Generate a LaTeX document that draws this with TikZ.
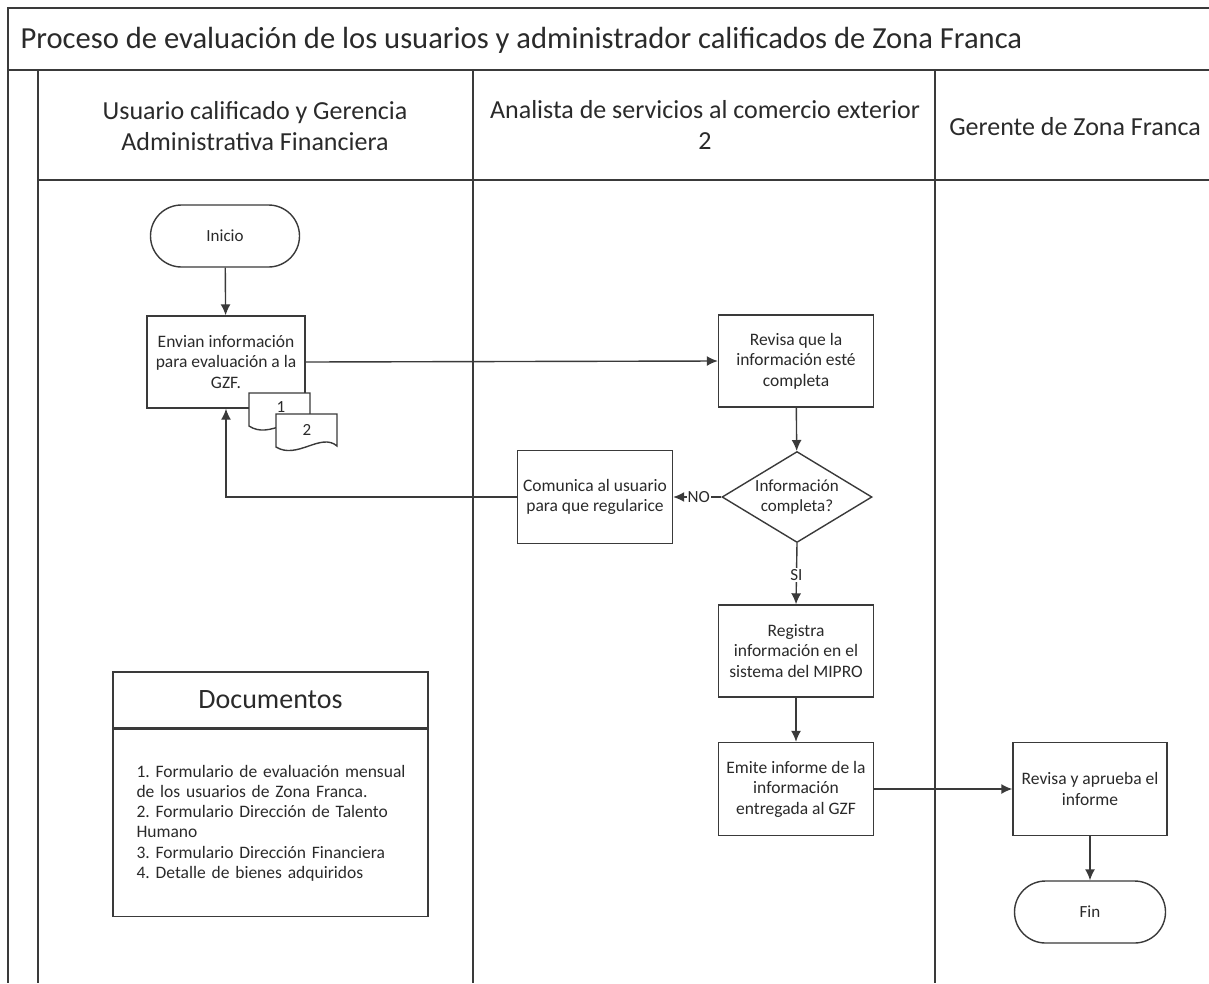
\documentclass[tikz,border=0pt]{standalone}
\usepackage{fontspec}
\setmainfont{Carlito}
\usetikzlibrary{arrows.meta,shapes.geometric,shapes.misc}
\definecolor{ln}{HTML}{3A3A3A}
\definecolor{tx}{HTML}{2A2A2A}
\frenchspacing
\begin{document}
\begin{tikzpicture}[x=1pt,y=-1pt,
  lane/.style={draw=ln, line width=1.8pt},
  proc/.style={draw=ln, line width=1.4pt, fill=white, minimum width=155pt, minimum height=92pt,
    inner sep=2pt, align=center, text=tx, font=\fontsize{17.5}{20.5}\selectfont},
  term/.style={rounded rectangle, draw=ln, line width=1.4pt, fill=white, minimum width=153pt,
    minimum height=62pt, inner sep=2pt, text=tx, font=\fontsize{17}{19}\selectfont},
  dec/.style={diamond, aspect=1.65, draw=ln, line width=1.4pt, fill=white, minimum width=150pt,
    minimum height=91pt, inner sep=0pt},
  dectext/.style={align=center, inner sep=0pt, text=tx, font=\fontsize{17}{20.5}\selectfont},
  flow/.style={draw=ln, line width=1.4pt, -{Latex[length=11pt,width=10pt]}},
  hdr/.style={align=center, text=tx, font=\fontsize{26}{31}\selectfont},
  lbl/.style={fill=white, inner sep=1pt, text=tx, font=\fontsize{17}{19}\selectfont},
  docshape/.style={draw=ln, line width=1.4pt, fill=white}
]
\useasboundingbox (0,0) rectangle (1209,983);
% frame and lanes
\draw[lane] (1209,8) -- (8,8) -- (8,983);
\draw[lane] (8,70) -- (1209,70);
\draw[lane] (38,70) -- (38,983);
\draw[lane] (38,180) -- (1209,180);
\draw[lane] (473,70) -- (473,983);
\draw[lane] (935,70) -- (935,983);
\node[anchor=west, text=tx, font=\fontsize{30.6}{33}\selectfont] (title) at (17,40)
  {Proceso de evaluación de los usuarios y administrador calificados de Zona Franca};
\node[hdr] (h1) at (255,126) {Usuario calificado y Gerencia\\Administrativa Financiera};
\node[hdr] (h2) at (705,125) {Analista de servicios al comercio exterior\\2};
\node[hdr] (h3) at (1075,127) {Gerente de Zona Franca};

% nodes
\node[term] (inicio) at (225,236) {Inicio};
\node[proc, minimum width=158pt] (envian) at (226,362) {Envian información\\para evaluación a la\\GZF.};
% documents
\draw[docshape] (249,393) -- (310,393) -- (310,426) .. controls (294,412) and (270,440) .. (249,426) -- cycle;
\node[text=tx, font=\fontsize{17}{19}\selectfont] (doc1) at (281,407) {1};
\draw[docshape] (276,414) -- (337,414) -- (337,446) .. controls (321,432) and (297,460) .. (276,447) -- cycle;
\node[text=tx, font=\fontsize{17}{19}\selectfont] (doc2) at (307,430) {2};

\node[proc] (revisa) at (796,361) {Revisa que la\\información esté\\completa};
\node[dec] (info) at (797,497) {};
\node[dectext] (infotext) at (797,497) {Información\\completa?};
\node[proc, minimum height=93pt] (comunica) at (595,497) {Comunica al usuario\\para que regularice};
\node[proc] (registra) at (796,651) {Registra\\información en el\\sistema del MIPRO};
\node[proc, minimum height=93pt] (emite) at (796,789) {Emite informe de la\\información\\entregada al GZF};
\node[proc, minimum width=154pt, minimum height=93pt] (aprueba) at (1090,789) {Revisa y aprueba el\\informe};
\node[term, minimum width=155pt] (fin) at (1090,912) {Fin};

% documents legend
\node[draw=ln, line width=1.6pt, minimum width=315pt, minimum height=56pt, inner sep=0pt,
  text=tx, font=\fontsize{28}{30}\selectfont] (dochead) at (270.5,700) {Documentos};
\node[draw=ln, line width=1.6pt, minimum width=315pt, minimum height=187pt, inner sep=0pt,
  anchor=north] (docbody) at (dochead.south) {};
\node[align=left, text width=292pt, inner sep=0pt, text=tx, font=\fontsize{17.5}{20.2}\selectfont]
  (doclist) at ([xshift=12pt]docbody.center) {1. Formulario de evaluación mensual\\de los usuarios de Zona Franca.\\2. Formulario Dirección de Talento\\Humano\\3. Formulario Dirección Financiera\\4. Detalle de bienes adquiridos};

% connectors
\draw[flow] (info.west) -- node[lbl, pos=0.47] (no) {NO} (comunica.east);
\draw[flow] (inicio) -- (envian);
\draw[flow] (envian.east) -- (revisa.west);
\draw[flow] (revisa) -- (info);
\draw[flow] (info.south) -- node[lbl, pos=0.52] (si) {SI} (registra.north);
\draw[flow] (comunica.west) -| (envian.south);
\draw[flow] (registra) -- (emite);
\draw[flow] (emite.east) -- (aprueba.west);
\draw[flow] (aprueba) -- (fin);
\end{tikzpicture}
\end{document}
